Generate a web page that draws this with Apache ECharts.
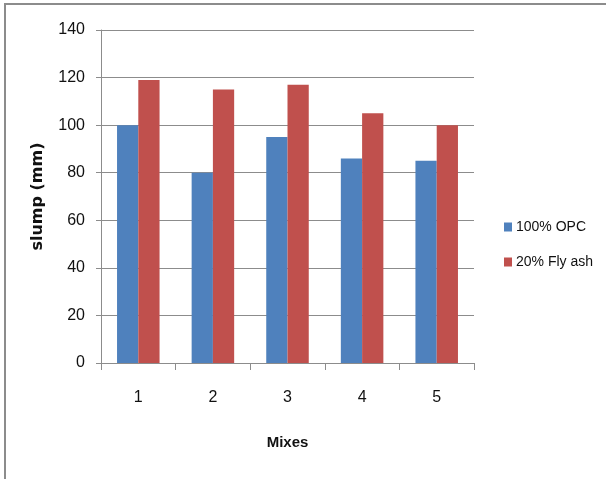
<!DOCTYPE html>
<html>
<head>
<meta charset="utf-8">
<script src="https://cdn.jsdelivr.net/npm/echarts@6/dist/echarts.min.js"></script>
<style>
  html, body { margin: 0; padding: 0; background: #ffffff; }
  #chart { width: 606px; height: 479px; }
</style>
</head>
<body>
<div id="chart"></div>
<script>
// Slump results per mix
const mixes = ['1', '2', '3', '4', '5'];
const seriesNames = ['100% OPC', '20% Fly ash'];
const opcSlump = [100, 80, 95, 86, 85];
const flyAshSlump = [119, 115, 117, 105, 100];
const yTicks = { min: 0, max: 140, step: 20 };

const axisGray = '#8c8c8c';
const textColor = '#111111';

const chart = echarts.init(document.getElementById('chart'), null, { renderer: 'canvas' });

chart.setOption({
  animation: false,
  backgroundColor: '#ffffff',
  graphic: [{
    type: 'rect',
    shape: { x: 5, y: 4, width: 800, height: 700 },
    style: { fill: 'none', stroke: axisGray, lineWidth: 2 },
    silent: true
  }],
  grid: { left: 101, top: 30, right: 132, bottom: 116, containLabel: false },
  legend: {
    orient: 'vertical',
    left: 499,
    top: 215,
    itemWidth: 8,
    itemHeight: 9,
    itemGap: 21,
    icon: 'rect',
    textStyle: { fontFamily: 'Liberation Sans', fontSize: 14, color: textColor, padding: [0, 0, 0, -1] },
    data: seriesNames
  },
  xAxis: {
    type: 'category',
    data: mixes,
    name: 'Mixes',
    nameLocation: 'middle',
    nameGap: 72,
    nameTextStyle: { fontFamily: 'Liberation Sans', fontWeight: 'bold', fontSize: 15, color: textColor },
    axisLine: { lineStyle: { color: axisGray, width: 1 } },
    axisTick: { show: true, length: 7, lineStyle: { color: axisGray } },
    axisLabel: { fontFamily: 'Liberation Sans', fontSize: 16, color: textColor, margin: 27 }
  },
  yAxis: {
    type: 'value',
    min: yTicks.min,
    max: yTicks.max,
    interval: yTicks.step,
    name: 'slump (mm)',
    nameLocation: 'middle',
    nameGap: 55,
    nameTextStyle: { fontFamily: 'DejaVu Sans', fontWeight: 'bold', fontSize: 16, color: textColor },
    axisLine: { show: true, lineStyle: { color: axisGray, width: 1 } },
    axisTick: { show: true, length: 5, lineStyle: { color: axisGray } },
    axisLabel: { fontFamily: 'Liberation Sans', fontSize: 16, color: textColor, margin: 16 },
    splitLine: { show: true, lineStyle: { color: axisGray, width: 1 } }
  },
  series: [
    {
      name: seriesNames[0],
      type: 'bar',
      data: opcSlump,
      barGap: '0%',
      barCategoryGap: '43%',
      itemStyle: { color: '#4f81bd' }
    },
    {
      name: seriesNames[1],
      type: 'bar',
      data: flyAshSlump,
      barGap: '0%',
      barCategoryGap: '43%',
      itemStyle: { color: '#c0504d' }
    }
  ]
});
</script>
</body>
</html>
